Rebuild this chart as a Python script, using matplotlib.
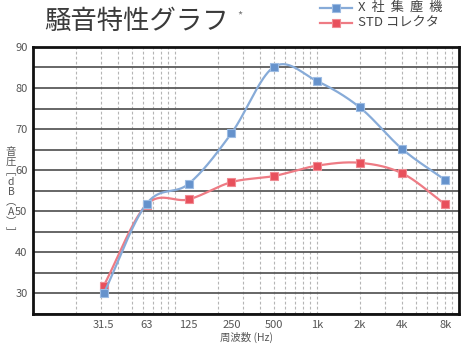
import numpy as np
import matplotlib
matplotlib.use('Agg')
from matplotlib import pyplot as plt
from matplotlib.ticker import FixedLocator, FixedFormatter, LogLocator, NullFormatter

plt.rcParams['font.family'] = ['Noto Sans CJK JP', 'DejaVu Sans']

# 周波数ごとの騒音レベル
freqs = [31.5, 63, 125, 250, 500, 1000, 2000, 4000, 8000]
freq_labels = ['31.5', '63', '125', '250', '500', '1k', '2k', '4k', '8k']
x_company = [30.0, 51.8, 56.7, 69.0, 85.2, 81.7, 75.3, 65.1, 57.6]
std_collector = [31.9, 51.6, 52.9, 57.1, 58.6, 61.1, 61.8, 59.2, 51.7]

series_names = ['X  社  集  塵  機', 'STD コレクタ']


def smooth(xs, ys, n=40):
    # Catmull-Rom曲線 (log2周波数上で補間)
    lx = np.log2(xs)
    ys = np.asarray(ys, dtype=float)
    px = np.concatenate([[2 * lx[0] - lx[1]], lx, [2 * lx[-1] - lx[-2]]])
    py = np.concatenate([[2 * ys[0] - ys[1]], ys, [2 * ys[-1] - ys[-2]]])
    out_x, out_y = [], []
    t = np.linspace(0, 1, n)
    h00 = 2 * t**3 - 3 * t**2 + 1
    h10 = t**3 - 2 * t**2 + t
    h01 = -2 * t**3 + 3 * t**2
    h11 = t**3 - t**2
    for i in range(1, len(px) - 2):
        mx0 = (px[i + 1] - px[i - 1]) / 2
        mx1 = (px[i + 2] - px[i]) / 2
        my0 = (py[i + 1] - py[i - 1]) / 2
        my1 = (py[i + 2] - py[i]) / 2
        out_x.append(h00 * px[i] + h10 * mx0 + h01 * px[i + 1] + h11 * mx1)
        out_y.append(h00 * py[i] + h10 * my0 + h01 * py[i + 1] + h11 * my1)
    return 2 ** np.concatenate(out_x), np.concatenate(out_y)


fig = plt.figure(figsize=(4.61, 3.45), dpi=100)
ax = fig.add_axes([0.0716, 0.0899, 0.924, 0.774])

ax.set_xscale('log')
ax.set_xlim(10, 10000)
ax.set_ylim(25, 90)

# グリッド (縦は対数の補助線、横は5dBごと)
ax.xaxis.set_major_locator(FixedLocator(freqs))
ax.xaxis.set_major_formatter(FixedFormatter(freq_labels))
ax.xaxis.set_minor_locator(LogLocator(base=10, subs=np.arange(1, 10), numticks=40))
ax.xaxis.set_minor_formatter(NullFormatter())
ax.xaxis.remove_overlapping_locs = False
ax.grid(True, axis='x', which='minor', linestyle=(0, (2.5, 2)), color='#b5b5b5', linewidth=0.8)
ax.tick_params(axis='x', which='both', length=0, pad=4, labelsize=8, labelcolor='#555555')

ax.set_yticks(np.arange(30, 91, 10))
ax.set_yticks(np.arange(25, 90, 5), minor=True)
ax.grid(True, axis='y', which='both', linestyle='-', color='#5a5a5a', linewidth=1.3)
ax.tick_params(axis='y', which='both', length=0, pad=4, labelsize=8, labelcolor='#555555')
ax.set_axisbelow(True)

for spine in ax.spines.values():
    spine.set_linewidth(2.0)
    spine.set_color('#111111')

# 曲線とマーカー
sx, sy = smooth(freqs, std_collector)
ax.plot(sx, sy, color='#ee7b84', linewidth=1.6, zorder=3)
ax.plot(freqs, std_collector, linestyle='none', marker='s', markersize=5.5,
        markerfacecolor='#e8505c', markeredgecolor='#f08a92', markeredgewidth=0.8, zorder=4)

bx, by = smooth(freqs, x_company)
ax.plot(bx, by, color='#87abd8', linewidth=1.6, zorder=5)
ax.plot(freqs, x_company, linestyle='none', marker='s', markersize=5.5,
        markerfacecolor='#6592cc', markeredgecolor='#9dbce3', markeredgewidth=0.8, zorder=6)

# 横軸ラベル
fig.text(0.534, 0.005, '周波数 (Hz)', fontsize=7.5, color='#555555', ha='center', va='bottom')

# 縦書きの軸ラベル
fig.text(0.024, 0.443, '音\n圧\n﹇\nd\nB\n︵\nA\n︶\n﹈', fontsize=7.5, color='#555555',
         ha='center', va='center', linespacing=1.0)

# タイトル
fig.text(0.097, 0.917, '騒音特性グラフ', fontsize=19, color='#3a3a3a', ha='left', va='baseline')
fig.text(0.514, 0.955, '*', fontsize=8, color='#777777', ha='left', va='center')

# 凡例
leg_colors = [('#87abd8', '#6592cc', '#9dbce3'), ('#ee7b84', '#e8505c', '#f08a92')]
for i, (name, (lc, fc, ec)) in enumerate(zip(series_names, leg_colors)):
    yy = 0.978 - i * 0.044
    fig.add_artist(plt.Line2D([0.694, 0.764], [yy, yy], color=lc, linewidth=1.6,
                              transform=fig.transFigure))
    fig.add_artist(plt.Line2D([0.729], [yy], marker='s', markersize=5.5, markerfacecolor=fc,
                              markeredgecolor=ec, markeredgewidth=0.8, transform=fig.transFigure))
    fig.text(0.777, yy, name, fontsize=9.5, color='#444444', ha='left', va='center')

fig.savefig('out.png', dpi=100)
